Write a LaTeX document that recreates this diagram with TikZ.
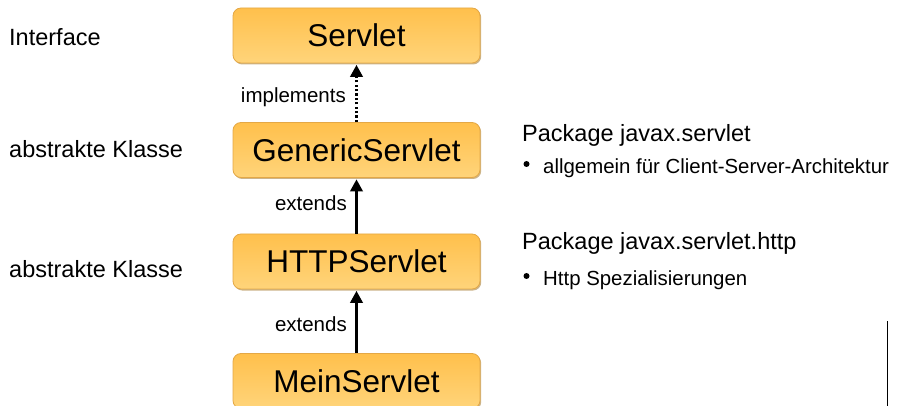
\documentclass[tikz,border=0pt]{standalone}
\usepackage{fontspec}
\setmainfont{Liberation Sans}
\usetikzlibrary{arrows.meta,shadows}

\definecolor{boxtop}{RGB}{255,192,76}
\definecolor{boxbottom}{RGB}{255,212,122}
\definecolor{boxline}{RGB}{228,168,70}
\definecolor{boxshadow}{RGB}{170,130,60}

\tikzset{
  classbox/.style={
    draw=boxline, line width=0.8pt, rounded corners=8pt,
    top color=boxtop, bottom color=boxbottom,
    minimum width=247pt, minimum height=55pt, inner sep=0pt,
    text height=22.5pt, text depth=0pt,
    font=\fontsize{31.5}{36}\selectfont,
    drop shadow={shadow xshift=1.2pt, shadow yshift=-1.5pt, fill=boxshadow, opacity=0.6}
  },
  sidelabel/.style={font=\fontsize{23.5}{28}\selectfont, inner sep=0pt},
  bullettext/.style={font=\fontsize{20.4}{24}\selectfont, inner sep=0pt},
  edgelabel/.style={font=\fontsize{20.5}{24}\selectfont, inner sep=0pt},
  relarrow/.style={line width=2.4pt, -{Triangle[length=12pt,width=12.5pt]}, shorten >=1.5pt},
  implarrow/.style={relarrow, dash pattern=on 2.2pt off 2.2pt},
  bulletdot/.style={circle, fill=black, inner sep=0pt, minimum size=6pt}
}

\begin{document}
\begin{tikzpicture}[x=1pt,y=-1pt]
  \useasboundingbox (0,0) rectangle (908,406);
  \clip (0,0) rectangle (908,406);

  % class hierarchy
  \node[classbox] (servlet) at (356.5,35.5) {Servlet};
  \node[classbox] (generic) at (356.5,150) {GenericServlet};
  \node[classbox] (http)    at (356.5,261.5) {HTTPServlet};
  \node[classbox] (mein)    at (356.5,381) {MeinServlet};

  \draw[implarrow] (generic.north) -- (servlet.south);
  \draw[relarrow]  (http.north) -- (generic.south);
  \draw[relarrow]  (mein.north) -- (http.south);

  \node[edgelabel, anchor=base east] (lblimpl) at (346,103) {implements};
  \node[edgelabel, anchor=base east] (lblext1) at (347,211) {extends};
  \node[edgelabel, anchor=base east] (lblext2) at (347,331) {extends};

  % kinds of class on the left
  \node[sidelabel, anchor=base west] (kind1) at (9,46)  {Interface};
  \node[sidelabel, anchor=base west] (kind2) at (9,158) {abstrakte Klasse};
  \node[sidelabel, anchor=base west] (kind3) at (9,278) {abstrakte Klasse};

  % packages on the right
  \node[sidelabel, anchor=base west] (pkg1) at (522,142) {Package javax.servlet};
  \node[bulletdot] (dot1) at (526.5,164) {};
  \node[bullettext, anchor=base west] (pkg1note) at (543,174) {allgemein für Client-Server-Architektur};

  \node[sidelabel, anchor=base west] (pkg2) at (522,250) {Package javax.servlet.http};
  \node[bulletdot] (dot2) at (526.5,276) {};
  \node[bullettext, anchor=base west] (pkg2note) at (543,286) {Http Spezialisierungen};

  % vertical rule at the lower right
  \coordinate (ruletop) at (887,321);
  \coordinate (rulebottom) at (887,406);
  \draw[line width=1pt] (ruletop) -- (rulebottom);
\end{tikzpicture}
\end{document}
